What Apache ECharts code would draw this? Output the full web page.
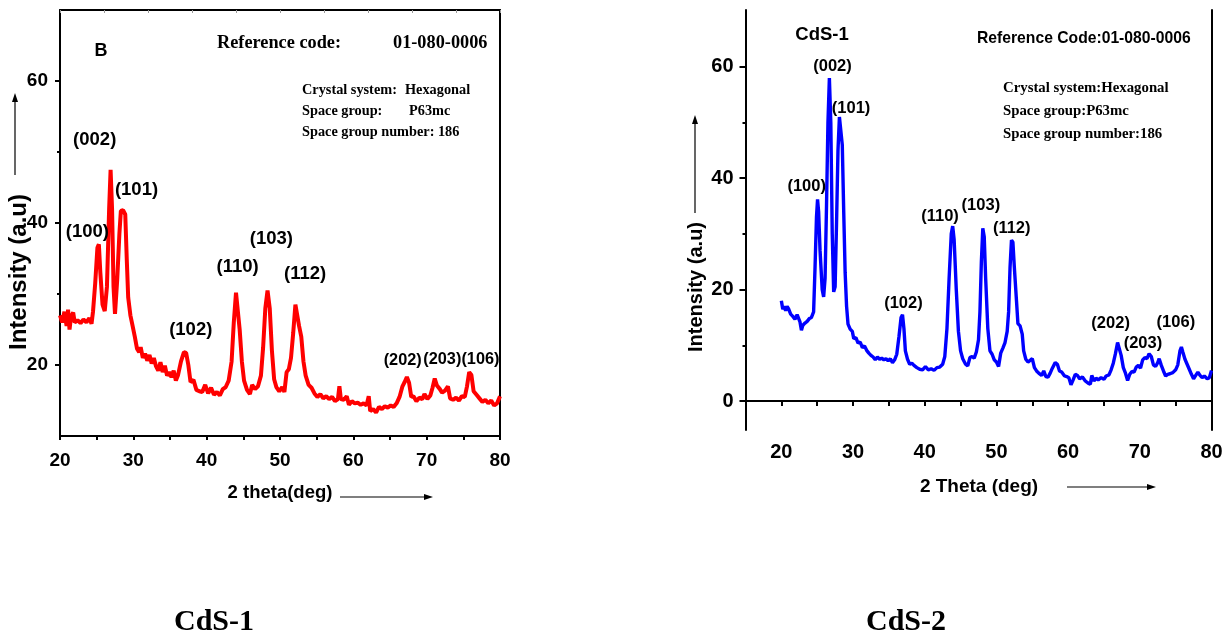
<!DOCTYPE html>
<html>
<head>
<meta charset="utf-8">
<script src="https://cdn.jsdelivr.net/npm/echarts@6/dist/echarts.min.js"></script>
<style>
html,body{margin:0;padding:0;background:#fff;}
#chart{width:1228px;height:637px;}
</style>
</head>
<body>
<div id="chart"></div>
<script>
// ---- CdS-1 (red) XRD pattern ----
const redTheta = [20.0,20.3,20.6,20.9,21.1,21.3,21.5,21.8,22.0,22.4,22.8,23.2,23.6,24.0,24.3,24.5,24.8,25.1,25.3,25.5,25.8,26.1,26.4,26.7,26.9,27.1,27.3,27.5,27.8,28.1,28.3,28.6,28.9,29.1,29.3,29.6,29.9,30.2,30.5,30.8,31.0,31.3,31.6,31.9,32.2,32.5,32.8,33.1,33.4,33.7,34.0,34.3,34.6,34.9,35.2,35.5,35.8,36.1,36.5,36.9,37.2,37.5,37.8,38.2,38.6,39.0,39.4,39.8,40.2,40.6,41.0,41.4,41.8,42.2,42.6,43.0,43.4,43.7,44.0,44.2,44.5,44.8,45.1,45.5,45.9,46.2,46.6,47.0,47.4,47.7,48.0,48.3,48.6,48.9,49.2,49.5,49.9,50.3,50.6,50.9,51.2,51.5,51.8,52.1,52.3,52.6,52.9,53.2,53.5,53.9,54.3,54.7,55.1,55.5,55.9,56.3,56.7,57.1,57.5,57.9,58.1,58.3,58.7,59.1,59.4,59.8,60.2,60.6,61.0,61.4,61.8,62.1,62.3,62.7,63.1,63.5,63.9,64.3,64.7,65.1,65.5,65.9,66.3,66.7,67.0,67.3,67.6,67.9,68.2,68.6,69.0,69.4,69.7,70.1,70.5,70.8,71.1,71.4,71.8,72.1,72.5,72.9,73.2,73.6,74.0,74.4,74.8,75.2,75.5,75.8,76.1,76.4,76.8,77.2,77.6,78.0,78.4,78.8,79.2,79.6,80.0];
const redIntensity = [27.0,26.0,27.5,25.5,27.8,25.0,26.8,27.4,26.0,26.3,25.9,26.4,26.0,26.6,25.8,27.5,31.5,36.5,37.0,33.0,28.5,27.6,31.0,42.0,47.5,42.0,31.0,27.2,32.0,38.5,41.7,41.8,41.2,35.0,29.5,27.0,25.5,24.0,22.3,21.8,22.5,21.0,21.6,20.6,21.4,20.2,21.0,19.8,19.2,20.4,19.0,19.9,18.5,19.0,18.3,19.2,17.8,18.6,20.5,21.8,21.7,20.0,17.6,17.9,16.5,16.3,16.2,17.2,16.0,16.8,15.8,16.2,15.7,16.6,16.9,17.8,20.5,26.0,30.2,30.0,25.0,20.5,17.8,16.5,15.9,17.2,16.6,17.0,18.5,22.5,28.0,30.5,28.0,22.0,18.0,16.9,16.3,16.9,16.2,19.0,19.4,21.0,24.5,28.5,28.7,25.5,24.0,20.5,18.5,17.2,16.8,16.0,15.5,15.9,15.3,15.6,15.2,15.5,14.9,15.2,17.0,15.2,15.1,15.6,14.4,14.9,14.6,14.7,14.4,14.6,14.3,15.6,13.5,13.8,13.3,14.1,13.8,14.2,14.0,14.3,14.1,14.6,15.5,17.0,17.6,18.3,17.5,15.5,15.6,14.9,15.4,15.2,15.9,15.2,15.7,16.8,18.1,17.1,16.6,16.1,16.4,17.0,15.3,15.1,15.4,15.0,15.6,15.5,17.0,19.0,18.6,16.3,15.8,15.3,14.8,15.1,14.6,15.0,14.3,14.6,15.6];

// ---- CdS-2 (blue) XRD pattern ----
const blueTheta = [20.0,20.2,20.4,20.6,20.8,21.0,21.3,21.6,21.9,22.2,22.4,22.6,22.8,23.0,23.3,23.6,23.9,24.2,24.5,24.7,24.9,25.05,25.2,25.4,25.7,25.9,26.1,26.3,26.5,26.7,26.9,27.1,27.3,27.5,27.7,27.9,28.1,28.3,28.5,28.7,28.9,29.1,29.3,29.6,29.9,30.1,30.4,30.7,31.0,31.3,31.6,31.9,32.2,32.5,32.8,33.1,33.4,33.7,34.0,34.3,34.6,34.9,35.2,35.5,35.8,36.1,36.4,36.7,36.9,37.1,37.3,37.6,37.9,38.2,38.5,38.9,39.3,39.7,40.1,40.5,40.9,41.3,41.7,42.1,42.5,42.8,43.1,43.4,43.7,43.9,44.1,44.4,44.7,45.0,45.3,45.7,46.0,46.3,46.6,46.9,47.2,47.5,47.7,47.9,48.1,48.3,48.5,48.8,49.1,49.4,49.7,50.0,50.3,50.6,50.9,51.2,51.5,51.7,51.9,52.1,52.3,52.5,52.8,53.0,53.3,53.6,53.8,54.1,54.4,54.7,55.0,55.3,55.6,55.9,56.3,56.6,56.9,57.2,57.5,57.8,58.2,58.5,58.8,59.1,59.5,59.8,60.1,60.4,60.7,61.0,61.3,61.6,62.0,62.4,62.8,63.1,63.3,63.6,63.9,64.2,64.6,65.0,65.3,65.7,66.0,66.3,66.6,66.9,67.1,67.4,67.7,68.0,68.3,68.6,68.9,69.2,69.5,69.8,70.1,70.4,70.7,71.0,71.3,71.6,71.9,72.2,72.5,72.7,73.0,73.3,73.6,73.9,74.2,74.6,75.0,75.3,75.6,75.8,76.0,76.3,76.6,76.9,77.2,77.5,77.8,78.1,78.4,78.7,79.0,79.4,79.7,80.0];
const blueIntensity = [18.0,16.5,17.0,16.2,17.0,16.6,15.6,15.2,14.7,15.5,15.6,14.2,12.7,13.6,14.0,14.3,14.8,15.0,16.0,24.0,33.0,36.2,34.0,27.0,20.0,18.7,22.0,35.0,50.0,58.0,50.0,30.0,19.6,20.5,32.0,45.0,51.0,51.2,46.0,34.0,23.0,17.0,13.8,12.9,12.5,11.2,11.4,10.4,10.6,9.6,9.9,9.1,8.6,8.2,7.9,7.4,7.9,7.5,7.7,7.4,7.6,7.2,7.6,6.9,7.4,8.4,11.5,15.0,15.5,13.0,9.0,7.5,6.6,6.8,6.4,6.0,5.7,5.6,6.2,5.6,5.8,5.5,6.0,6.1,6.6,8.0,13.0,22.0,30.0,31.4,29.0,20.0,12.5,9.0,7.6,6.6,6.3,7.8,8.0,7.7,8.8,11.0,16.0,25.0,31.0,29.5,22.0,13.0,9.0,8.4,7.4,7.0,6.2,8.6,9.5,10.5,12.5,16.0,24.0,28.9,28.5,24.0,18.0,13.9,13.5,12.0,9.0,7.5,7.0,7.3,7.6,6.0,5.4,5.0,4.6,5.4,4.4,4.3,5.0,5.9,6.9,6.6,5.4,5.2,4.5,4.4,4.2,2.9,3.8,4.8,4.6,4.0,4.3,3.6,3.2,3.0,4.6,3.6,4.1,3.8,4.2,3.9,4.5,4.7,5.6,6.8,8.5,10.5,10.8,8.2,6.0,5.0,3.7,4.8,5.3,5.2,6.1,6.4,5.9,7.4,7.8,7.6,8.5,8.0,6.5,6.2,6.9,7.6,6.4,5.4,4.5,4.8,4.9,5.1,5.6,6.5,9.0,9.7,8.8,7.5,6.6,5.7,4.8,4.0,4.6,5.2,4.6,4.2,4.5,4.0,4.2,5.5];

// ---- peak (hkl) annotations: label text, 2theta, height ----
const peaks1Label = ['(002)','(101)','(100)','(103)','(110)','(112)','(102)'];
const peaks1Theta = [24.8,30.5,23.8,48.9,44.3,53.5,37.9];
const peaks1Height = [51.6,44.6,38.7,37.7,33.7,32.8,24.9];
const peaks1HighLabel = ['(202)','(203)','(106)'];
const peaks1HighTheta = [66.8,72.2,77.4];
const peaks1HighHeight = [20.5,20.7,20.7];

const peaks2Label = ['(002)','(101)','(100)','(110)','(103)','(112)','(102)','(202)','(203)','(106)'];
const peaks2Theta = [27.2,29.8,23.6,42.2,47.9,52.2,37.1,66.0,70.5,75.1];
const peaks2Height = [59.9,52.4,38.4,33.1,35.1,30.9,17.5,13.9,10.2,14.0];

// ---- tick values ----
const x1Ticks = [20,30,40,50,60,70,80];
const x1MinorTicks = [20,25,30,35,40,45,50,55,60,65,70,75,80];
const y1Ticks = [20,40,60];
const y1MinorTicks = [30,50];
const x2Ticks = [20,30,40,50,60,70,80];
const x2MinorTicks = [15,20,25,30,35,40,45,50,55,60,65,70,75,80];
const y2Ticks = [0,20,40,60];
const y2MinorTicks = [10,30,50];

const zip = (a, b) => a.map((v, i) => [v, b[i]]);
const SANS = 'Liberation Sans';
const SERIF = 'Liberation Serif';

const chart = echarts.init(document.getElementById('chart'), null, {renderer: 'canvas'});

function arrowV(x, yTip, yEnd) {
  return [
    {type: 'line', shape: {x1: x, y1: yTip + 6, x2: x, y2: yEnd}, style: {stroke: '#000', lineWidth: 1.2}},
    {type: 'polygon', shape: {points: [[x, yTip], [x - 3, yTip + 9], [x + 3, yTip + 9]]}, style: {fill: '#000'}}
  ];
}
function arrowH(xStart, xTip, y) {
  return [
    {type: 'line', shape: {x1: xStart, y1: y, x2: xTip - 6, y2: y}, style: {stroke: '#000', lineWidth: 1.2}},
    {type: 'polygon', shape: {points: [[xTip, y], [xTip - 9, y - 3], [xTip - 9, y + 3]]}, style: {fill: '#000'}}
  ];
}
function txt(text, x, y, font, align, rot) {
  return {type: 'text', x: x, y: y, rotation: rot || 0,
    style: {text: text, font: font, fill: '#000', textAlign: align || 'left', textVerticalAlign: 'middle'}};
}
function hklSeries(name, xIdx, yIdx, labels, thetas, heights, size) {
  return {name: name, type: 'scatter', xAxisIndex: xIdx, yAxisIndex: yIdx, symbolSize: 1,
    itemStyle: {color: 'rgba(255,255,255,0)'}, z: 5, silent: true,
    data: labels.map((l, i) => ({value: [thetas[i], heights[i]], name: l})),
    label: {show: true, position: [0, 0], align: 'center', verticalAlign: 'middle',
      formatter: p => p.name, color: '#000', opacity: 1, textBorderWidth: 0,
      fontFamily: SANS, fontWeight: 'bold', fontSize: size}};
}

const axisLineStyle = {color: '#000', width: 2};

const option = {
  backgroundColor: '#fff',
  animation: false,
  grid: [
    {left: 60, top: 10, width: 440, height: 426},
    {left: 745.5, top: 10, width: 466, height: 420}
  ],
  xAxis: [
    {gridIndex: 0, type: 'value', min: 20, max: 80, interval: 5, position: 'bottom',
      axisLine: {lineStyle: axisLineStyle}, splitLine: {show: false},
      axisTick: {length: 4, lineStyle: {color: '#000', width: 2}, customValues: x1MinorTicks},
      axisLabel: {customValues: x1Ticks, margin: 15, color: '#000', fontFamily: SANS, fontWeight: 'bold', fontSize: 19}},
    {gridIndex: 0, type: 'value', min: 20, max: 80, interval: 6, position: 'top',
      axisLine: {lineStyle: axisLineStyle}, splitLine: {show: false},
      axisTick: {inside: true, length: 3, lineStyle: {color: '#999', width: 1}},
      axisLabel: {show: false}},
    {gridIndex: 1, type: 'value', min: 15, max: 80, interval: 5, position: 'bottom',
      axisLine: {lineStyle: axisLineStyle}, splitLine: {show: false},
      axisTick: {length: 5, lineStyle: {color: '#000', width: 2}, customValues: x2MinorTicks},
      axisLabel: {customValues: x2Ticks, margin: 12, color: '#000', fontFamily: SANS, fontWeight: 'bold', fontSize: 20}},
    {gridIndex: 1, type: 'value', min: 15, max: 80, position: 'top',
      axisLine: {lineStyle: axisLineStyle}, splitLine: {show: false},
      axisTick: {show: false}, axisLabel: {show: false}}
  ],
  yAxis: [
    {gridIndex: 0, type: 'value', min: 10, max: 70, position: 'left',
      axisLine: {show: true, lineStyle: axisLineStyle}, splitLine: {show: false},
      axisTick: {length: 5, lineStyle: {color: '#000', width: 2}, customValues: y1Ticks},
      axisLabel: {customValues: y1Ticks, margin: 12, color: '#000', fontFamily: SANS, fontWeight: 'bold', fontSize: 19}},
    {gridIndex: 0, type: 'value', min: 10, max: 70, position: 'left',
      axisLine: {show: false}, splitLine: {show: false},
      axisTick: {length: 3, lineStyle: {color: '#000', width: 2}, customValues: y1MinorTicks},
      axisLabel: {show: false}},
    {gridIndex: 0, type: 'value', min: 10, max: 70, position: 'right',
      axisLine: {show: true, lineStyle: axisLineStyle}, splitLine: {show: false},
      axisTick: {show: false}, axisLabel: {show: false}},
    {gridIndex: 1, type: 'value', min: -5.2, max: 70.2, position: 'left',
      axisLine: {show: true, lineStyle: axisLineStyle}, splitLine: {show: false},
      axisTick: {length: 6, lineStyle: {color: '#000', width: 2}, customValues: y2Ticks},
      axisLabel: {customValues: y2Ticks, margin: 12, color: '#000', fontFamily: SANS, fontWeight: 'bold', fontSize: 20}},
    {gridIndex: 1, type: 'value', min: -5.2, max: 70.2, position: 'left',
      axisLine: {show: false}, splitLine: {show: false},
      axisTick: {length: 3, lineStyle: {color: '#000', width: 2}, customValues: y2MinorTicks},
      axisLabel: {show: false}},
    {gridIndex: 1, type: 'value', min: -5.2, max: 70.2, position: 'right',
      axisLine: {show: true, lineStyle: axisLineStyle}, splitLine: {show: false},
      axisTick: {show: false}, axisLabel: {show: false}}
  ],
  series: [
    {name: 'CdS-1', type: 'line', xAxisIndex: 0, yAxisIndex: 0, data: zip(redTheta, redIntensity),
      showSymbol: false, symbol: 'none', lineStyle: {color: '#ff0000', width: 4}, z: 3},
    {name: 'CdS-2', type: 'line', xAxisIndex: 2, yAxisIndex: 3, data: zip(blueTheta, blueIntensity),
      showSymbol: false, symbol: 'none', lineStyle: {color: '#0000ff', width: 3.4}, z: 3},
    hklSeries('hkl1', 0, 0, peaks1Label, peaks1Theta, peaks1Height, 18.5),
    hklSeries('hkl1b', 0, 0, peaks1HighLabel, peaks1HighTheta, peaks1HighHeight, 16.3),
    hklSeries('hkl2', 2, 3, peaks2Label, peaks2Theta, peaks2Height, 16.5)
  ],
  graphic: [].concat(
    [
      txt('B', 101, 51, 'bold 18px ' + SANS, 'center'),
      txt('Reference code:', 217, 43, 'bold 18.3px ' + SERIF, 'left'),
      txt('01-080-0006', 393, 43, 'bold 18.3px ' + SERIF, 'left'),
      txt('Crystal system:', 302, 90, 'bold 14.3px ' + SERIF, 'left'),
      txt('Hexagonal', 405, 90, 'bold 14.3px ' + SERIF, 'left'),
      txt('Space group:', 302, 111, 'bold 14.3px ' + SERIF, 'left'),
      txt('P63mc', 409, 111, 'bold 14.3px ' + SERIF, 'left'),
      txt('Space group number: 186', 302, 132, 'bold 14.3px ' + SERIF, 'left'),
      txt('Intensity (a.u)', 19, 272, 'bold 24px ' + SANS, 'center', Math.PI / 2),
      txt('2 theta(deg)', 280, 493, 'bold 18.5px ' + SANS, 'center'),

      txt('CdS-1', 822, 35, 'bold 18.5px ' + SANS, 'center'),
      txt('Reference Code:01-080-0006', 977, 39, 'bold 15.7px ' + SANS, 'left'),
      txt('Crystal system:Hexagonal', 1003, 88, 'bold 14.8px ' + SERIF, 'left'),
      txt('Space group:P63mc', 1003, 111, 'bold 14.8px ' + SERIF, 'left'),
      txt('Space group number:186', 1003, 134, 'bold 14.8px ' + SERIF, 'left'),
      txt('Intensity (a.u)', 696, 287, 'bold 20px ' + SANS, 'center', Math.PI / 2),
      txt('2 Theta (deg)', 979, 487, 'bold 19px ' + SANS, 'center'),

      txt('CdS-1', 214, 622, 'bold 30px ' + SERIF, 'center'),
      txt('CdS-2', 906, 622, 'bold 30px ' + SERIF, 'center')
    ],
    arrowV(15, 93, 175),
    arrowH(340, 433, 497),
    arrowV(695, 115, 213),
    arrowH(1067, 1156, 487)
  )
};
chart.setOption(option);
</script>
</body>
</html>
